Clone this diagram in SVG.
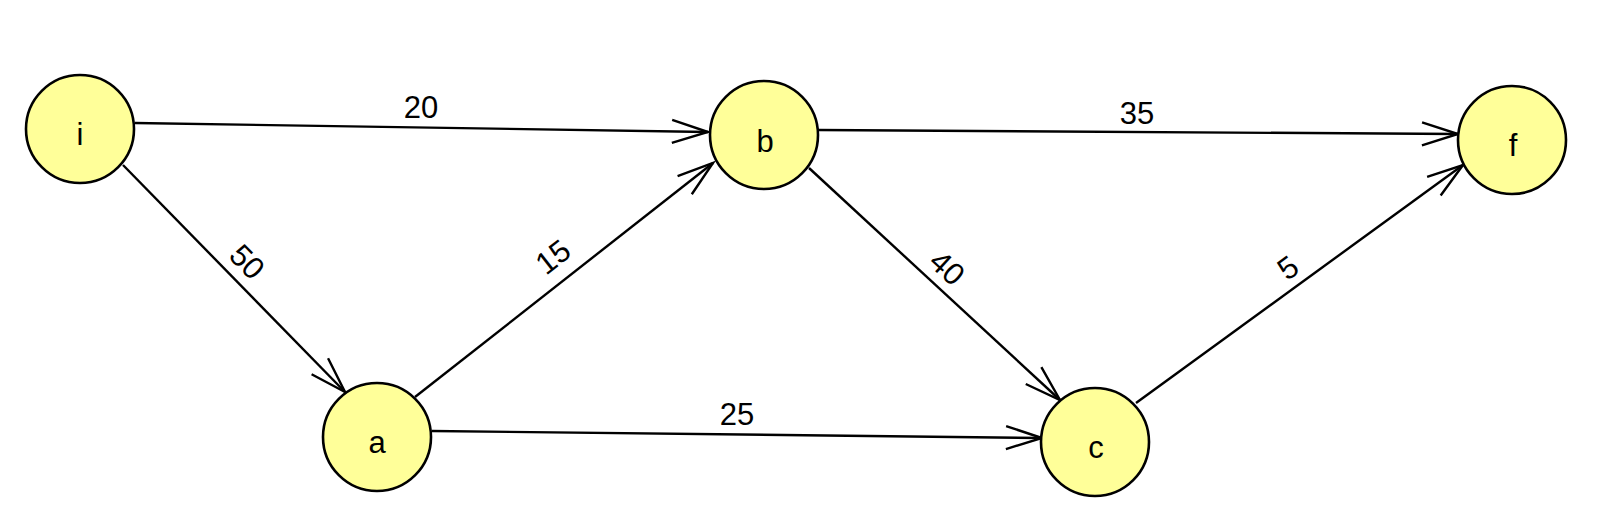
<svg xmlns="http://www.w3.org/2000/svg" width="1600" height="531" viewBox="0 0 1600 531">
<defs>
<marker id="arr" markerUnits="userSpaceOnUse" markerWidth="50" markerHeight="40" viewBox="-40 -20 50 40" refX="0" refY="0" orient="auto">
<path d="M -36 -11.5 L 0 0 L -36 11.5" fill="none" stroke="#000" stroke-width="2.4"/>
</marker>
<style>
.n{fill:#ffff99;stroke:#000;stroke-width:2.6}
.nl{font-family:"Liberation Sans",Arial,sans-serif;font-size:31px;text-anchor:middle;fill:#000}
.e{stroke:#000;stroke-width:2.4;fill:none;marker-end:url(#arr)}
.el{font-family:"Liberation Sans",Arial,sans-serif;font-size:31px;text-anchor:middle;fill:#000}
</style>
</defs>
<rect width="1600" height="531" fill="#fff"/>
<g id="connectors">
<line class="e" x1="135" y1="123" x2="708" y2="132"/>
<line class="e" x1="818" y1="130" x2="1458" y2="134"/>
<line class="e" x1="123" y1="165" x2="345" y2="392"/>
<line class="e" x1="415" y1="397" x2="713" y2="163"/>
<line class="e" x1="809" y1="168" x2="1060" y2="400"/>
<line class="e" x1="432" y1="431" x2="1042" y2="438"/>
<line class="e" x1="1136" y1="403" x2="1463" y2="165"/>
<text class="el" x="421" y="118">20</text>
<text class="el" x="1137" y="124">35</text>
<text class="el" x="737" y="425">25</text>
<text class="el" dominant-baseline="central" transform="translate(247,262) rotate(45.6)">50</text>
<text class="el" dominant-baseline="central" transform="translate(553,257) rotate(-38)">15</text>
<text class="el" dominant-baseline="central" transform="translate(947,268) rotate(42.7)">40</text>
<text class="el" dominant-baseline="central" transform="translate(1288,268) rotate(-36)">5</text>
</g>
<g id="node-i"><circle class="n" cx="80" cy="129" r="54"/><text class="nl" x="80" y="145">i</text></g>
<g id="node-b"><circle class="n" cx="764" cy="135" r="54"/><text class="nl" x="765" y="152">b</text></g>
<g id="node-f"><circle class="n" cx="1512" cy="140" r="54"/><text class="nl" x="1513" y="156">f</text></g>
<g id="node-a"><circle class="n" cx="377" cy="437" r="54"/><text class="nl" x="377" y="453">a</text></g>
<g id="node-c"><circle class="n" cx="1095" cy="442" r="54"/><text class="nl" x="1096" y="458">c</text></g>
</svg>
